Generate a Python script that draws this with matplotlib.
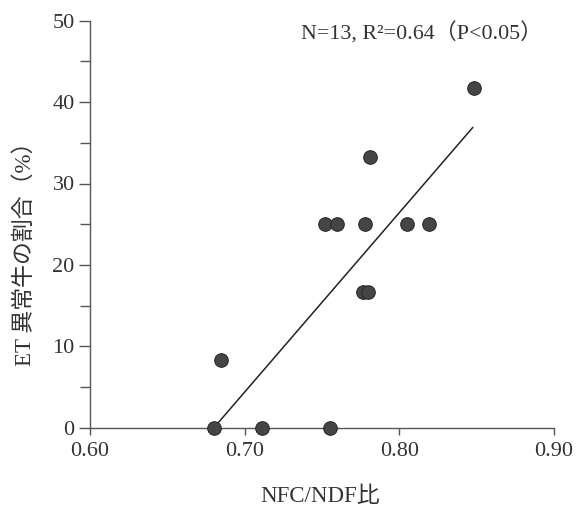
import matplotlib
matplotlib.use("Agg")
import matplotlib.pyplot as plt
import numpy as np
from matplotlib.ticker import MultipleLocator

plt.rcParams['font.family'] = ['Liberation Serif', 'Noto Sans CJK JP']

# data
nfc_ndf = [0.680, 0.685, 0.711, 0.755, 0.752, 0.760, 0.778, 0.781, 0.805, 0.819, 0.848, 0.7765, 0.7795]
et_rate = [0.0, 8.3, 0.0, 0.0, 25.0, 25.0, 25.0, 33.3, 25.0, 25.0, 41.7, 16.7, 16.7]
fit_slope = 220.4
fit_intercept = -149.9
fit_x_range = [0.680, 0.8474]
x_ticks = [0.60, 0.70, 0.80, 0.90]
x_tick_labels = ["0.60", "0.70", "0.80", "0.90"]
y_ticks = [0, 10, 20, 30, 40, 50]

W, H = 583, 513
fig = plt.figure(figsize=(W/100, H/100), dpi=100)
ax = fig.add_axes([90/W, 1-427.7/H, (554-90)/W, (427.7-20.7)/H])

axis_col = '#555555'
text_col = '#333333'

fx = np.array(fit_x_range)
ax.plot(fx, fit_slope*fx + fit_intercept, color='#222222', lw=1.1, zorder=2)
ax.scatter(nfc_ndf, et_rate, s=95, color='#454545', edgecolors='#2a2a2a',
           linewidths=0.8, zorder=3, clip_on=False)

ax.set_xlim(0.60, 0.90)
ax.set_ylim(0, 50)
ax.set_xticks(x_ticks)
ax.set_xticklabels(x_tick_labels)
ax.set_yticks(y_ticks)
ax.yaxis.set_minor_locator(MultipleLocator(5))

for s in ['top', 'right']:
    ax.spines[s].set_visible(False)
for s in ['left', 'bottom']:
    ax.spines[s].set_color(axis_col)
    ax.spines[s].set_linewidth(1.0)

ax.tick_params(axis='x', direction='out', length=5, width=1.0, color=axis_col,
               labelsize=16, labelcolor=text_col, pad=5)
ax.tick_params(axis='y', which='major', direction='out', length=8, width=1.0,
               color=axis_col, labelsize=16, labelcolor=text_col, pad=3)
ax.tick_params(axis='y', which='minor', direction='out', length=7, width=1.0,
               color=axis_col)

fig.text(301/W, 1-33/H, "N=13, R²=0.64（P<0.05）", fontsize=15.8, color=text_col,
         ha='left', va='center')
fig.text(320/W, 1-496/H, "NFC/NDF比", fontsize=16.5, color=text_col,
         ha='center', va='center')
fig.text(25/W, 1-248/H, "ET 異常牛の割合（%）", fontsize=16.5, color=text_col,
         ha='center', va='center', rotation=90)

fig.savefig("out.png", dpi=100)
